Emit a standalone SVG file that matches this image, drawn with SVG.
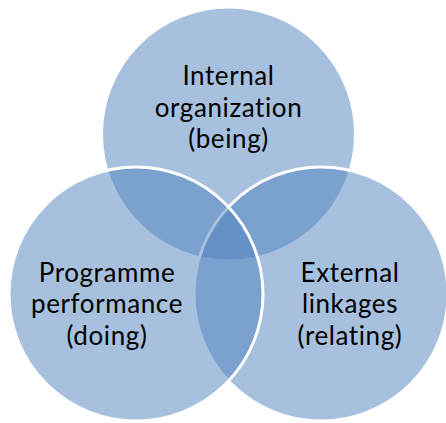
<svg xmlns="http://www.w3.org/2000/svg" width="446" height="423" viewBox="0 0 446 423">
  <style>
    .ring { fill: #4F81BD; fill-opacity: 0.5; stroke: #FFFFFF; stroke-width: 3; }
    .label { font-family: Lato, "Liberation Sans", sans-serif; font-size: 26px; letter-spacing: 0.6px; fill: #000000; text-anchor: middle; }
  </style>
  <rect width="446" height="423" fill="#FFFFFF"/>
  <g id="internal-organization">
    <circle class="ring" cx="228.5" cy="134" r="127"/>
    <text class="label" x="228.5" y="85">Internal</text>
    <text class="label" x="228.5" y="117">organization</text>
    <text class="label" x="228.5" y="148">(being)</text>
  </g>
  <g id="external-linkages">
    <circle class="ring" cx="321" cy="294" r="127"/>
    <text class="label" x="350" y="282">External</text>
    <text class="label" x="350" y="313">linkages</text>
    <text class="label" x="350" y="345">(relating)</text>
  </g>
  <g id="programme-performance">
    <circle class="ring" cx="136" cy="294" r="127"/>
    <text class="label" x="107" y="282">Programme</text>
    <text class="label" x="107" y="313">performance</text>
    <text class="label" x="107" y="345">(doing)</text>
  </g>
  <g id="connectors"/>
</svg>
